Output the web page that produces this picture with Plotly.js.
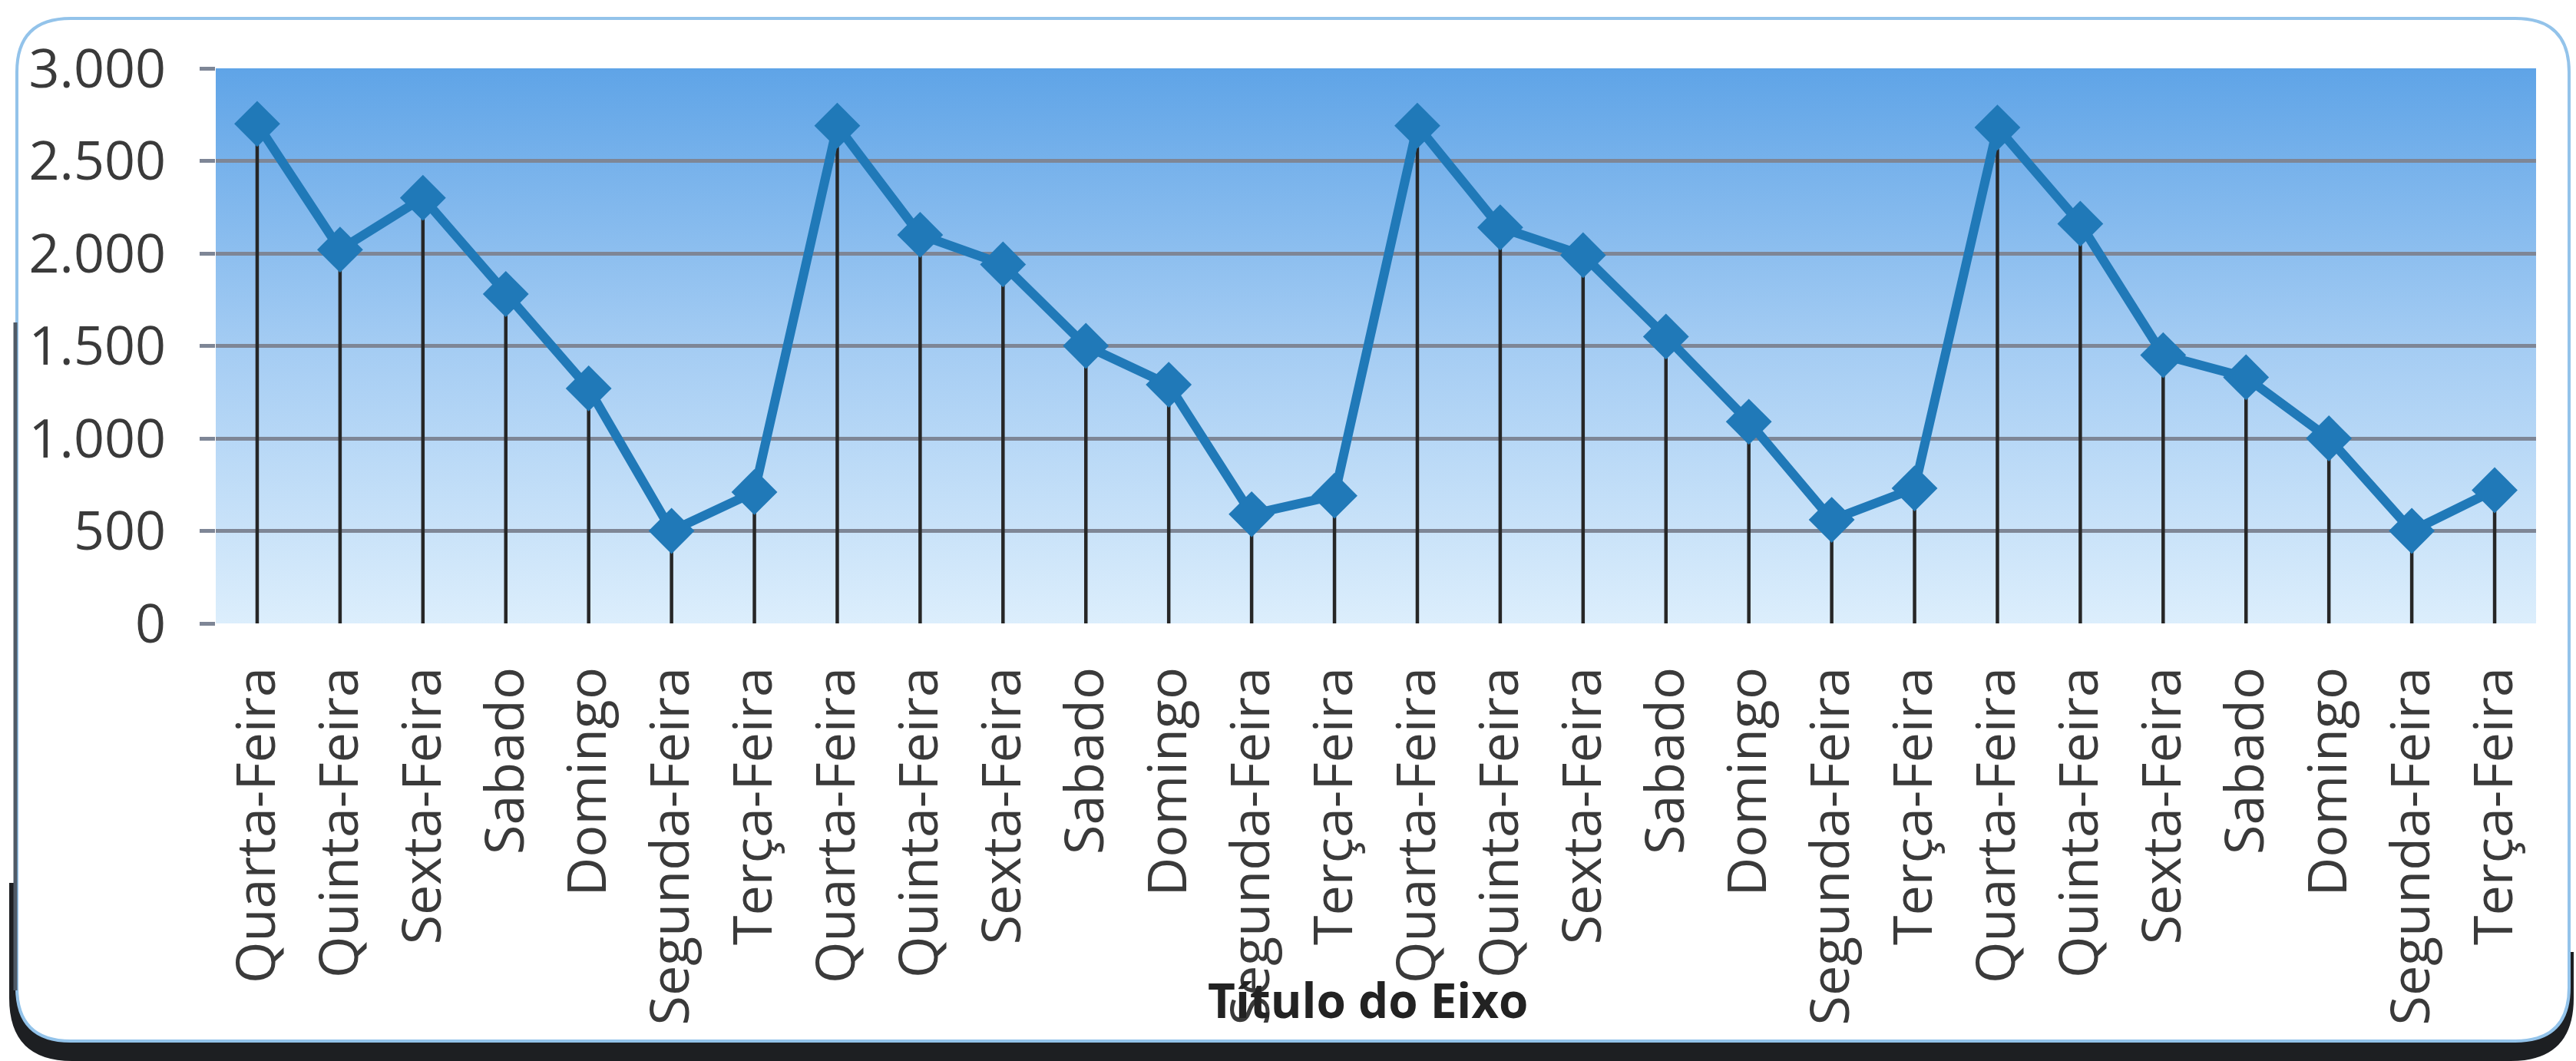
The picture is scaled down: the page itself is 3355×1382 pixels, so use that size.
<!DOCTYPE html>
<html>
<head>
<meta charset="utf-8">
<script src="https://cdn.plot.ly/plotly-3.0.1.min.js"></script>
<style>html,body{margin:0;padding:0;background:#fff;}#chart{width:3355px;height:1382px;}</style>
</head>
<body>
<div id="chart"></div>
<script>
// ---- data ----
var categories = [
  "Quarta-Feira","Quinta-Feira","Sexta-Feira","Sabado","Domingo","Segunda-Feira","Terça-Feira",
  "Quarta-Feira","Quinta-Feira","Sexta-Feira","Sabado","Domingo","Segunda-Feira","Terça-Feira",
  "Quarta-Feira","Quinta-Feira","Sexta-Feira","Sabado","Domingo","Segunda-Feira","Terça-Feira",
  "Quarta-Feira","Quinta-Feira","Sexta-Feira","Sabado","Domingo","Segunda-Feira","Terça-Feira"
];
var values = [
  2700, 2020, 2300, 1780, 1270, 500, 710,
  2690, 2100, 1940, 1500, 1290, 590, 690,
  2690, 2140, 1990, 1550, 1090, 560, 730,
  2680, 2160, 1450, 1330, 1000, 500, 720
];
var yTickValues = [0, 500, 1000, 1500, 2000, 2500, 3000];
var yTickLabels = ["0", "500", "1.000", "1.500", "2.000", "2.500", "3.000"];
var xAxisTitle = "Título do Eixo";

// ---- layout geometry (pixels) ----
var W = 3355, H = 1382;
var M = {l: 281, r: 52, t: 89, b: 570};
var PW = W - M.l - M.r, PH = H - M.t - M.b;
function px(x) { return (x - M.l) / PW; }
function py(y) { return (H - M.b - y) / PH; }
function P(x, y) { return px(x) + ',' + py(y); }
function roundRect(x0, y0, x1, y1, r) {
  return [
    'M' + P(x0 + r, y0), 'L' + P(x1 - r, y0),
    'Q' + P(x1, y0) + ' ' + P(x1, y0 + r), 'L' + P(x1, y1 - r),
    'Q' + P(x1, y1) + ' ' + P(x1 - r, y1), 'L' + P(x0 + r, y1),
    'Q' + P(x0, y1) + ' ' + P(x0, y1 - r), 'L' + P(x0, y0 + r),
    'Q' + P(x0, y0) + ' ' + P(x0 + r, y0), 'Z'
  ].join(' ');
}
// dark shadow band along the bottom of the frame
function bottomBand() {
  return [
    'M' + P(12, 1150), 'L' + P(12, 1300),
    'Q' + P(12, 1382) + ' ' + P(94, 1382), 'L' + P(3270, 1382),
    'Q' + P(3352, 1382) + ' ' + P(3352, 1300), 'L' + P(3352, 1240),
    'L' + P(3346, 1240), 'L' + P(3346, 1286),
    'Q' + P(3346, 1356) + ' ' + P(3276, 1356), 'L' + P(92, 1356),
    'Q' + P(22, 1356) + ' ' + P(22, 1286), 'L' + P(22, 1150), 'Z'
  ].join(' ');
}

var xIdx = categories.map(function (c, i) { return i; });

var lineColor = '#2079b8';
var trace = {
  type: 'scatter',
  mode: 'lines+markers',
  x: xIdx,
  y: values,
  line: {color: lineColor, width: 12},
  marker: {symbol: 'diamond', size: 46, color: lineColor},
  error_y: {
    type: 'data', symmetric: false,
    array: values.map(function () { return 0; }),
    arrayminus: values,
    width: 0, thickness: 4.5, color: '#262626'
  },
  hoverinfo: 'x+y',
  showlegend: false
};

var svg = "<svg xmlns='http://www.w3.org/2000/svg' width='100' height='100' preserveAspectRatio='none'>" +
  "<defs><linearGradient id='g' x1='0' y1='0' x2='0' y2='1'>" +
  "<stop offset='0' stop-color='#5fa4e7'/>" +
  "<stop offset='0.5' stop-color='#a4ccf3'/>" +
  "<stop offset='1' stop-color='#dceefc'/>" +
  "</linearGradient></defs><rect width='100' height='100' fill='url(#g)'/></svg>";
var gradSrc = 'data:image/svg+xml;charset=utf-8,' + encodeURIComponent(svg);

var font = '"Open Sans", "Noto Sans", sans-serif';
var gridColor = '#7e8696';

var layout = {
  width: W, height: H,
  margin: M,
  paper_bgcolor: '#ffffff',
  plot_bgcolor: 'rgba(0,0,0,0)',
  font: {family: font, size: 70, color: '#3a3a3a'},
  xaxis: {
    range: [-0.5, categories.length - 0.5],
    tickmode: 'array', tickvals: xIdx, ticktext: categories,
    tickangle: -90, showgrid: false, zeroline: false, showline: false,
    ticks: '', ticklabelstandoff: 42,
    tickfont: {family: font, size: 70, color: '#3a3a3a'},
    fixedrange: true
  },
  yaxis: {
    range: [0, 3000],
    tickmode: 'array', tickvals: yTickValues, ticktext: yTickLabels,
    showgrid: true, gridcolor: gridColor, gridwidth: 5,
    zeroline: false, showline: false,
    ticks: 'outside', ticklen: 20, tickwidth: 5, tickcolor: gridColor,
    ticklabelstandoff: 30,
    tickfont: {family: font, size: 70, color: '#3a3a3a'},
    fixedrange: true
  },
  images: [{
    source: gradSrc, xref: 'paper', yref: 'paper',
    x: 0, y: 1, sizex: 1, sizey: 1, xanchor: 'left', yanchor: 'top',
    sizing: 'stretch', layer: 'below'
  }],
  shapes: [
    {type: 'path', xref: 'paper', yref: 'paper', layer: 'below',
     path: bottomBand(), fillcolor: '#1d1f22', line: {width: 0}},
    {type: 'path', xref: 'paper', yref: 'paper', layer: 'below',
     path: roundRect(22, 24, 3346, 1356, 70), fillcolor: 'rgba(0,0,0,0)', line: {color: '#93c3ea', width: 4}},
    {type: 'line', xref: 'paper', yref: 'paper', layer: 'below',
     x0: px(20), x1: px(20), y0: py(420), y1: py(1290), line: {color: '#4f5a66', width: 5}}
  ],
  annotations: [{
    text: '<b>' + xAxisTitle + '</b>', xref: 'paper', yref: 'paper',
    x: px(1782), y: py(1302), xanchor: 'center', yanchor: 'middle', showarrow: false,
    font: {family: font, size: 62, color: '#222222'}
  }]
};

Plotly.newPlot('chart', [trace], layout, {displayModeBar: false, staticPlot: true});
</script>
</body>
</html>
